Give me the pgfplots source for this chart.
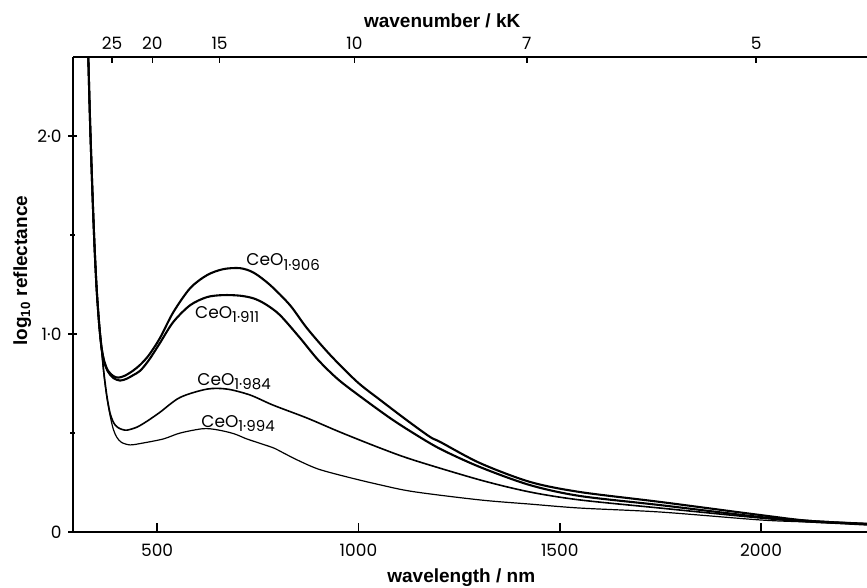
\documentclass[border=0pt]{standalone}
\usepackage{fontspec}
\setmainfont{Poppins}
\newfontfamily\lblfont{Liberation Sans}
\usepackage{pgfplots}
\pgfplotsset{compat=1.18}

\newcommand{\tickfont}{\fontsize{8.5bp}{10bp}\selectfont}
\newcommand{\axlabel}{\lblfont\bfseries\fontsize{9.5bp}{11bp}\selectfont}
\newcommand{\ceo}[1]{\fontsize{8.5bp}{10bp}\selectfont CeO\raisebox{-0.45ex}{\fontsize{7.5bp}{8bp}\selectfont #1}}

\pgfplotsset{
  refbox/.style={
    at={(0,0)}, anchor=south west,
    scale only axis, width=397bp, height=237.5bp,
    xmin=291, xmax=2263, ymin=0, ymax=2.4,
    axis line style={line width=1bp},
    ticklabel style={font=\tickfont},
  },
}

\begin{document}
\begin{tikzpicture}
% fixes the page to the reference's crop (axis is cut off at the right)
\path[use as bounding box] (-36.5bp,-28bp) rectangle (397bp,266bp);

\begin{axis}[refbox,
    axis x line*=bottom, axis y line*=left,
    xtick align=inside, ytick align=center,
    xtick style={line width=0.8bp, black},
    ytick style={line width=0.8bp, black},
    major tick length=4.5bp, minor tick length=2.5bp,
    xtick={500,1000,1500,2000},
    xticklabels={500,1000,1500,2000},
    xticklabel style={yshift=-2.5bp},
    ytick={0,1,2},
    yticklabels={0,1·0,2·0},
    minor ytick={0.5,1.5},
    xlabel={\axlabel wavelength / nm},
    xlabel style={at={(axis description cs:0.489,-0.097)}, anchor=center},
    ylabel={\axlabel log\textsubscript{10} reflectance},
    ylabel style={at={(axis description cs:-0.064,0.55)}, anchor=center, rotate=0},
  ]

% CeO1.906
\addplot[smooth, tension=0.5, line width=1.05bp] coordinates {
  (329,2.40) (333,2.10) (337,1.85) (341,1.62) (345,1.42) (350,1.22)
  (356,1.05) (362,0.93) (369,0.86) (378,0.815) (391,0.788) (404,0.78)
  (420,0.79) (440,0.815) (458,0.845) (480,0.895) (507,0.98) (540,1.11)
  (582,1.232) (624,1.298) (664,1.328) (706,1.333) (740,1.31) (781,1.247)
  (830,1.146) (872,1.030) (930,0.894) (997,0.758) (1054,0.667) (1120,0.565)
  (1178,0.48) (1203,0.455) (1302,0.348) (1426,0.253) (1550,0.202)
  (1749,0.152) (1997,0.086) (2121,0.056) (2263,0.042)
};

% CeO1.911
\addplot[smooth, tension=0.5, line width=1.05bp] coordinates {
  (329,2.40) (333,2.10) (337,1.85) (341,1.62) (345,1.42) (350,1.22)
  (356,1.05) (362,0.93) (369,0.855) (378,0.81) (391,0.778) (408,0.765)
  (425,0.775) (440,0.792) (458,0.815) (480,0.87) (507,0.955) (540,1.061)
  (582,1.146) (624,1.187) (664,1.197) (706,1.194) (740,1.18) (770,1.15)
  (805,1.096) (855,0.980) (900,0.869) (950,0.77) (1011,0.675) (1079,0.575)
  (1136,0.50) (1203,0.42) (1302,0.328) (1426,0.237) (1550,0.182)
  (1749,0.136) (1997,0.076) (2121,0.056) (2263,0.040)
};

% CeO1.984
\addplot[smooth, tension=0.5, line width=0.8bp] coordinates {
  (329,2.40) (333,2.10) (337,1.85) (341,1.62) (345,1.42) (350,1.22)
  (356,1.05) (362,0.92) (368,0.80) (375,0.69) (383,0.601) (392,0.552)
  (401,0.530) (413,0.518) (426,0.515) (450,0.53) (475,0.56) (507,0.605)
  (557,0.68) (624,0.722) (674,0.722) (731,0.692) (788,0.641) (872,0.576)
  (954,0.505) (1054,0.424) (1136,0.364) (1302,0.263) (1426,0.202)
  (1550,0.162) (1749,0.121) (1997,0.071) (2121,0.051) (2263,0.040)
};

% CeO1.994
\addplot[smooth, tension=0.5, line width=0.6bp] coordinates {
  (329,2.40) (333,2.10) (337,1.85) (341,1.62) (345,1.42) (350,1.22)
  (356,1.05) (362,0.92) (368,0.79) (375,0.68) (383,0.59) (391,0.52)
  (400,0.478) (412,0.452) (433,0.44) (458,0.447) (515,0.47) (557,0.50)
  (614,0.522) (650,0.516) (690,0.497) (723,0.47) (760,0.445) (790,0.424)
  (815,0.398) (850,0.362) (900,0.318) (972,0.278) (1050,0.24) (1136,0.204)
  (1302,0.162) (1426,0.141) (1550,0.121) (1749,0.101) (1997,0.061)
  (2121,0.050) (2263,0.035)
};

\node at (axis cs:813,1.364) {\ceo{1·906}};
\node at (axis cs:674,1.10) {\ceo{1·911}};
\node at (axis cs:691,0.758) {\ceo{1·984}};
\node at (axis cs:701,0.55) {\ceo{1·994}};
\end{axis}

% wavenumber scale along the top
\begin{axis}[refbox,
    axis x line*=top, axis y line=none,
    xtick align=inside,
    xtick style={line width=0.8bp, black},
    major tick length=3bp,
    xtick={388,488,655,990,1418,1988},
    xticklabels={25,20,15,10,7,5},
    xlabel={\axlabel wavenumber / kK},
    xlabel style={at={(axis description cs:0.465,1.076)}, anchor=center},
  ]
\end{axis}
\end{tikzpicture}
\end{document}
